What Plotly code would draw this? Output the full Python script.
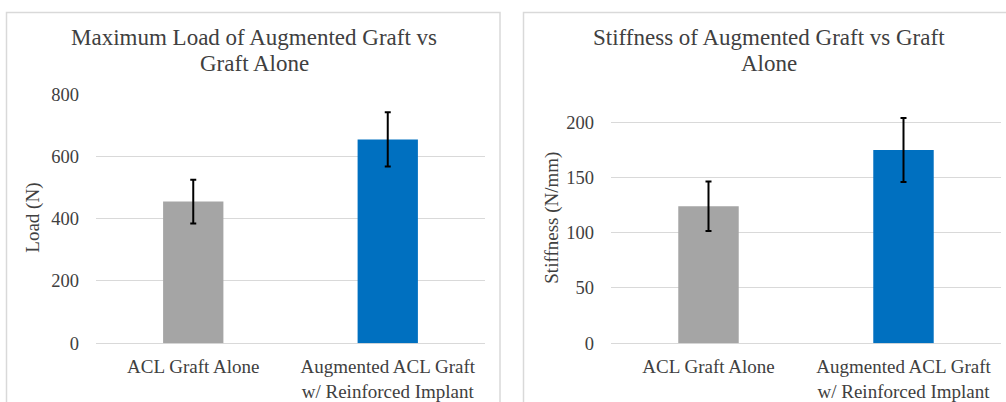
import plotly.graph_objects as go

categories = ["ACL Graft Alone", "Augmented ACL Graft<br>w/ Reinforced Implant"]
load_values = [455, 655]
load_errors = [70, 87]
stiffness_values = [124, 175]
stiffness_errors = [22.5, 29]
bar_colors = ["#a5a5a5", "#0070c0"]
load_ticks = [0, 200, 400, 600, 800]
stiff_ticks = [0, 50, 100, 150, 200]

W, H = 1006, 402
FONT = "Liberation Serif, Times New Roman, serif"
TXT = "#404040"

def px(x):
    return x / W

def py(y):
    # compensate for the observed vertical mapping of the capture
    yf = (y - 10) / 0.947
    return (H - yf) / H

fig = go.Figure()
fig.add_trace(go.Bar(
    x=categories, y=load_values, marker_color=bar_colors, marker_line_width=0,
    error_y=dict(type="data", array=load_errors, color="black", thickness=2, width=3),
    xaxis="x", yaxis="y", showlegend=False, cliponaxis=False,
))
fig.add_trace(go.Bar(
    x=categories, y=stiffness_values, marker_color=bar_colors, marker_line_width=0,
    error_y=dict(type="data", array=stiffness_errors, color="black", thickness=2, width=3),
    xaxis="x2", yaxis="y2", showlegend=False, cliponaxis=False,
))

xcommon = dict(type="category", showgrid=False, zeroline=False, showline=False,
               tickfont=dict(family=FONT, size=19, color=TXT), ticks="",
               ticklabelstandoff=10, fixedrange=True)
ycommon = dict(showgrid=True, gridcolor="#d9d9d9", gridwidth=1, zeroline=True,
               zerolinecolor="#d9d9d9", zerolinewidth=1, showline=False, ticks="",
               tickfont=dict(family=FONT, size=18.5, color=TXT), ticklabelstandoff=16,
               fixedrange=True)

# right axis: 200 sits at y=122, 0 at y=342 -> 1.1 px per unit; top of range 210 at 111
fig.update_layout(
    width=W, height=H, margin=dict(l=0, r=0, t=0, b=0),
    paper_bgcolor="white", plot_bgcolor="white", bargap=0.69,
    xaxis=dict(domain=[px(96), px(485)], anchor="y", **xcommon),
    yaxis=dict(domain=[py(342), py(94)], range=[0, 800], tickvals=load_ticks, anchor="x", **ycommon),
    xaxis2=dict(domain=[px(611), px(1001)], anchor="y2", **xcommon),
    yaxis2=dict(domain=[py(342), py(111)], range=[0, 210], tickvals=stiff_ticks, anchor="x2", **ycommon),
)

# panel borders
fig.add_shape(type="rect", xref="paper", yref="paper", x0=px(6.5), x1=px(500), y0=py(430), y1=py(12.5),
              line=dict(color="#d9d9d9", width=1.5), fillcolor="rgba(0,0,0,0)", layer="below")
fig.add_shape(type="rect", xref="paper", yref="paper", x0=px(523.5), x1=px(1020), y0=py(430), y1=py(12.5),
              line=dict(color="#d9d9d9", width=1.5), fillcolor="rgba(0,0,0,0)", layer="below")

# titles (one annotation per line to control line spacing)
title_font = dict(family=FONT, size=23, color=TXT)
for text, x, y in [("Maximum Load of Augmented Graft vs", 254, 37), ("Graft Alone", 254, 63),
                   ("Stiffness of Augmented Graft vs Graft", 769, 37), ("Alone", 769, 63)]:
    fig.add_annotation(text=text, xref="paper", yref="paper", x=px(x), y=py(y),
                       xanchor="center", yanchor="middle", showarrow=False, font=title_font)
# axis titles
fig.add_annotation(text="Load (N)", xref="paper", yref="paper", x=px(33), y=py(217),
                   xanchor="center", yanchor="middle", textangle=-90, showarrow=False,
                   font=dict(family=FONT, size=19, color=TXT))
fig.add_annotation(text="Stiffness (N/mm)", xref="paper", yref="paper", x=px(552), y=py(217),
                   xanchor="center", yanchor="middle", textangle=-90, showarrow=False,
                   font=dict(family=FONT, size=19, color=TXT))

fig.write_html("out.html", config={"displayModeBar": False, "staticPlot": True},
               post_script="document.body.style.margin='0';document.body.style.overflow='hidden';")
